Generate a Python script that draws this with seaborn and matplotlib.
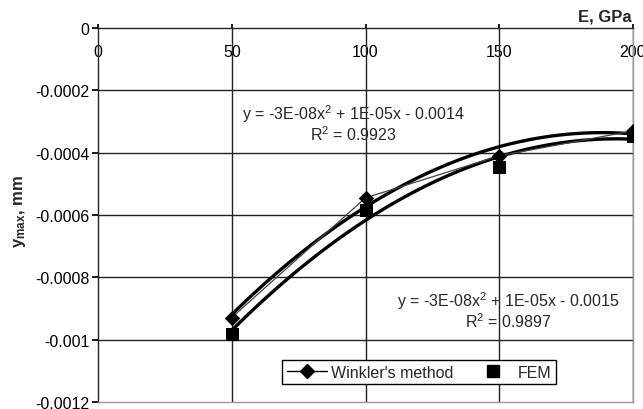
import numpy as np
import matplotlib
matplotlib.use("Agg")
import matplotlib.pyplot as plt
from matplotlib.lines import Line2D
import seaborn as sns

# data
E_gpa = [50, 100, 150, 200]
winkler = [-0.000929, -0.000545, -0.000410, -0.000330]
fem = [-0.000981, -0.000585, -0.000445, -0.000346]

eq_winkler = "y = -3E-08x$^2$ + 1E-05x - 0.0014\nR$^2$ = 0.9923"
eq_fem = "y = -3E-08x$^2$ + 1E-05x - 0.0015\nR$^2$ = 0.9897"

x_ticks = [0, 50, 100, 150, 200]
y_ticks = [0, -0.0002, -0.0004, -0.0006, -0.0008, -0.001, -0.0012]
y_ticklabels = ["0", "-0.0002", "-0.0004", "-0.0006", "-0.0008", "-0.001", "-0.0012"]

sns.set_theme(style="white")
plt.rcParams["font.family"] = ["Liberation Sans", "DejaVu Sans"]
plt.rcParams["mathtext.fontset"] = "custom"
plt.rcParams["mathtext.rm"] = "Liberation Sans"
plt.rcParams["mathtext.bf"] = "Liberation Sans:bold"
plt.rcParams["mathtext.default"] = "regular"

fig = plt.figure(figsize=(6.43, 4.10), dpi=100)
ax = fig.add_axes([98 / 643, 1 - 403 / 410, 535 / 643, 374 / 410])

# gridlines
for xv in x_ticks[1:]:
    ax.axvline(xv, color="#222222", lw=1.0, zorder=1)
for yv in y_ticks[1:-1]:
    ax.axhline(yv, color="#222222", lw=1.0, zorder=1)

# quadratic trend lines
sns.regplot(x=E_gpa, y=winkler, order=2, ci=None, scatter=False, ax=ax,
            line_kws=dict(color="black", lw=2.4, zorder=3))
sns.regplot(x=E_gpa, y=fem, order=2, ci=None, scatter=False, ax=ax,
            line_kws=dict(color="black", lw=2.4, zorder=3))

# series
sns.lineplot(x=E_gpa, y=winkler, ax=ax, color="#444444", lw=0.9, zorder=4,
             marker="D", markersize=7, markerfacecolor="black",
             markeredgecolor="black")
sns.scatterplot(x=E_gpa, y=fem, ax=ax, marker="s", s=85, color="black",
                edgecolor="black", zorder=5)

ax.set_xlim(0, 200)
ax.set_ylim(-0.0012, 0)
ax.set_xticks(x_ticks)
ax.set_xticklabels([str(v) for v in x_ticks])
ax.set_yticks(y_ticks)
ax.set_yticklabels(y_ticklabels)
ax.xaxis.tick_top()
ax.tick_params(axis="x", top=True, bottom=False, labeltop=True, labelbottom=False,
               direction="out", length=3, pad=-25, labelsize=11.5, colors="black")
ax.tick_params(axis="y", left=True, direction="out", length=4, pad=2,
               labelsize=11.5, colors="black")
ax.set_xlabel("")
ax.set_ylabel("")

for side in ["left", "top"]:
    ax.spines[side].set_color("#222222")
    ax.spines[side].set_linewidth(1.0)
for side in ["right", "bottom"]:
    ax.spines[side].set_color("#999999")
    ax.spines[side].set_linewidth(1.0)

fig.text(20 / 643, 1 - 212 / 410, r"$\mathbf{y_{max}}$, mm", rotation=90,
         ha="center", va="center", fontsize=12, fontweight="bold")
fig.text(632 / 643, 1 - 17 / 410, "E, GPa", ha="right", va="center",
         fontsize=12, fontweight="bold")

ax.text(95.3, -0.000303, eq_winkler, ha="center", va="center", fontsize=11.5,
        linespacing=1.0, zorder=6)
ax.text(153.3, -0.000904, eq_fem, ha="center", va="center", fontsize=11.5,
        linespacing=1.0, zorder=6)

handles = [
    Line2D([], [], color="black", lw=1.0, marker="D", markersize=7,
           markerfacecolor="black"),
    Line2D([], [], color="none", marker="s", markersize=8,
           markerfacecolor="black", markeredgecolor="black"),
]
leg = ax.legend(handles, ["Winkler's method", "FEM"], ncol=2,
                loc="center", bbox_to_anchor=(0.6, 0.08), fontsize=11.5,
                frameon=True, fancybox=False, framealpha=1, edgecolor="black",
                borderpad=0.3, handlelength=2.5, handletextpad=0.3,
                columnspacing=1.2)
leg.get_frame().set_linewidth(1.0)
leg.set_zorder(10)

fig.savefig("out.png", dpi=100, facecolor="white")
